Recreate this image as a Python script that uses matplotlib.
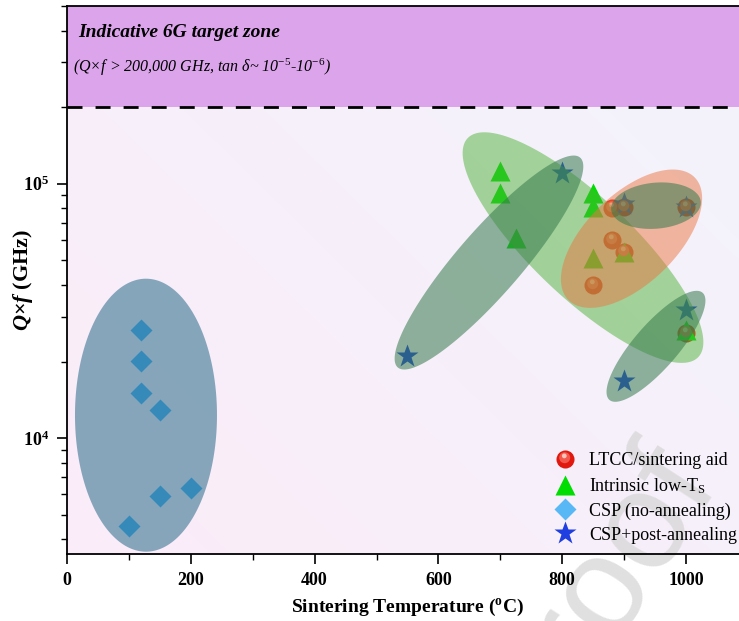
import numpy as np
import matplotlib
matplotlib.use("Agg")
import matplotlib.pyplot as plt
from matplotlib.patches import Polygon
from matplotlib.path import Path
from matplotlib.legend_handler import HandlerTuple

plt.rcParams['font.family'] = ['Liberation Serif', 'DejaVu Serif']
plt.rcParams['mathtext.fontset'] = 'custom'
plt.rcParams['mathtext.rm'] = 'Liberation Serif'
plt.rcParams['mathtext.it'] = 'Liberation Serif:italic'
plt.rcParams['mathtext.bf'] = 'Liberation Serif:bold'
plt.rcParams['mathtext.bfit'] = 'Liberation Serif:bold:italic'

# sintering temperature (C) and Q*f (GHz) per material route
ltcc_T = [880, 900, 1000, 880, 900, 850, 1000]
ltcc_Qf = [80000, 81000, 81000, 60000, 54000, 40000, 26000]

intr_T = [700, 700, 725, 850, 850, 900, 850, 1000]
intr_Qf = [112000, 92000, 61000, 92000, 81000, 54000, 51000, 26600]

csp_T = [120, 120, 120, 150, 150, 200, 100]
csp_Qf = [26600, 20100, 15000, 12900, 5900, 6350, 4500]

cspa_T = [800, 900, 1000, 1000, 550, 900]
cspa_Qf = [110000, 83000, 81000, 32000, 21000, 16800]

labels = ['LTCC/sintering aid', 'Intrinsic low-T$_\\mathregular{S}$',
          'CSP (no-annealing)', 'CSP+post-annealing']

target_Qf = 2e5
xmin, xmax = 0, 1100
ymin, ymax = 3500, 5e5

# grouping ellipses: centre (T, Qf), semi-axes in px, tilt in deg, colour, alpha
groups = [
    ((127.6, 12300), 71, 136.5, 0, '#145e7e', 0.5),
    ((833.6, 56100), 159, 50, -43.5, '#51b23a', 0.5),
    ((912, 60800), 88, 45, 44, '#eb7642', 0.5),
    ((681.7, 49000), 139, 32, 49, '#357a4c', 0.55),
    ((951.5, 82000), 45, 23, 5, '#357a4c', 0.55),
    ((951.5, 22950), 71, 22, 49, '#357a4c', 0.55),
]

W, H = 739, 621
fig = plt.figure(figsize=(W / 100, H / 100), dpi=100)
ax_l, ax_b, ax_t = 67, 554, 6
px_per_deg = 0.619
ax_w = (xmax - xmin) * px_per_deg
ax = fig.add_axes([ax_l / W, 1 - ax_b / H, ax_w / W, (ax_b - ax_t) / H])
ax.set_yscale('log')
ax.set_xlim(xmin, xmax)
ax.set_ylim(ymin, ymax)
px_per_dec = (ax_b - ax_t) / (np.log10(ymax) - np.log10(ymin))

# soft pink-to-lavender background below the target line
frac = (np.log10(target_Qf) - np.log10(ymin)) / (np.log10(ymax) - np.log10(ymin))
gx, gy = np.meshgrid(np.linspace(0, 1, 200), np.linspace(0, 1, 200))
g = np.clip((gx * 0.6 + gy * 0.4), 0, 1)[..., None]
c0 = np.array([251, 236, 248]) / 255
c1 = np.array([243, 243, 252]) / 255
bg = c0 * (1 - g) + c1 * g
ax.imshow(bg, extent=(0, 1, 0, frac), transform=ax.transAxes, origin='lower',
          aspect='auto', zorder=0, interpolation='bilinear')
ax.axhspan(target_Qf, ymax, color='#dca5eb', zorder=0.5, lw=0)
ax.axhline(target_Qf, color='black', lw=2, dashes=(5.4, 4.7), zorder=5, clip_on=False)

ax.text(0.016, 0.952, 'Indicative 6G target zone', transform=ax.transAxes,
        fontsize=14, fontweight='bold', fontstyle='italic', va='center', ha='left')
ax.text(0.009, 0.888, '($Q$×$f$ > 200,000 GHz, $tan$ $\\delta$~ 10$^{-5}$-10$^{-6}$)',
        transform=ax.transAxes, fontsize=11.5, fontstyle='italic', va='center', ha='left')

# faint proof watermark
ax.text(0.775, -0.075, 'Proof', transform=ax.transAxes, fontsize=100,
        family='Liberation Sans', color='#d6d6d6', alpha=0.75, rotation=57,
        ha='center', va='center', zorder=1, clip_on=False)


def ball_layer(ox, oy, r):
    # offset circle marker, given in px relative to the ball centre
    k = 0.72
    p = Path.circle((ox * k, oy * k), r * k)
    return p, 2 * np.abs(p.vertices).max()


base = dict(ls='none', mec='none')
ball = ax.plot(ltcc_T, ltcc_Qf, marker='o', ms=13, color='#e0180e', zorder=2, **base)[0]
p1, s1 = ball_layer(-0.8, 1.8, 5.5)
mid = ax.plot(ltcc_T, ltcc_Qf, marker=p1, ms=s1, color='#f2574c', zorder=2.1, **base)[0]
p2, s2 = ball_layer(-1.2, 3.6, 2.4)
hi = ax.plot(ltcc_T, ltcc_Qf, marker=p2, ms=s2, color='#ffc2b8', zorder=2.2, **base)[0]
tri = ax.plot(intr_T, intr_Qf, marker='^', ms=15, color='#00dd00', zorder=2, **base)[0]
dia = ax.plot(csp_T, csp_Qf, marker='D', ms=11.5, color='#58b8f5', zorder=2, **base)[0]
star = ax.plot(cspa_T, cspa_Qf, marker='*', ms=17, color='#1f3fe0', zorder=2, **base)[0]

# group ellipses drawn in screen-like units, then mapped back to T / log(Qf)
t = np.linspace(0, 2 * np.pi, 200)
for (tc, qc), a, b, ang, col, alp in groups:
    phi = np.deg2rad(ang)
    u, v = a * np.cos(t), b * np.sin(t)
    dx = u * np.cos(phi) - v * np.sin(phi)
    dy = u * np.sin(phi) + v * np.cos(phi)
    xs = tc + dx / px_per_deg
    ys = 10 ** (np.log10(qc) + dy / px_per_dec)
    ax.add_patch(Polygon(np.column_stack([xs, ys]), closed=True, facecolor=col,
                         edgecolor='none', alpha=alp, zorder=3))

ax.set_xticks(np.arange(0, 1001, 200))
ax.set_xticks(np.arange(100, 1101, 200), minor=True)
ax.set_yticks([1e4, 1e5])
ax.set_yticklabels(['$\\mathbf{10^{4}}$', '$\\mathbf{10^{5}}$'])
ax.tick_params(which='major', direction='out', length=7, width=1.2, labelsize=13, pad=6)
ax.tick_params(which='minor', direction='out', length=4, width=1.0)
ax.tick_params(axis='y', which='minor', labelleft=False)
for lab in ax.get_xticklabels():
    lab.set_fontweight('bold')
for s in ax.spines.values():
    s.set_linewidth(1.3)

ax.set_xlabel('Sintering Temperature ($\\mathregular{^{o}}$C)', fontsize=14,
              fontweight='bold')
ax.set_ylabel('$\\mathbfit{Q}$$\\mathbf{\\times}$$\\mathbfit{f}$ (GHz)', fontsize=16,
              fontweight='bold')
ax.xaxis.set_label_coords((407 - ax_l) / ax_w, -(597 - ax_b) / (ax_b - ax_t))
ax.yaxis.set_label_coords(-(ax_l - 35) / ax_w, (ax_b - 280) / (ax_b - ax_t))

leg = ax.legend([(ball, mid, hi), tri, dia, star], labels,
                handler_map={tuple: HandlerTuple(ndivide=1, pad=0)},
                loc='upper left', bbox_to_anchor=(555 / W, 1 - 452 / H),
                bbox_transform=fig.transFigure, frameon=False, fontsize=13,
                handlelength=1.1, handletextpad=0.8, labelspacing=0.38,
                borderpad=0, borderaxespad=0)
leg.set_zorder(6)

fig.savefig('out.png', dpi=100)
